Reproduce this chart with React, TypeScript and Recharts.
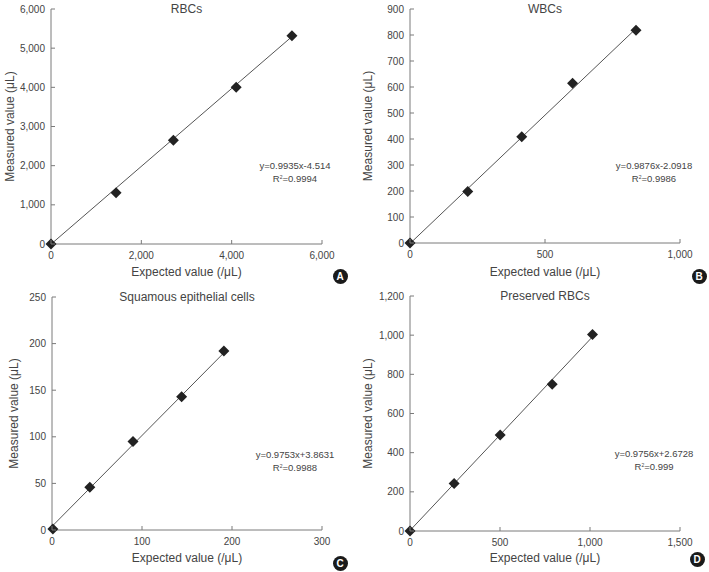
import { ScatterChart, Scatter, XAxis, YAxis, ReferenceLine } from "recharts";

// expected vs measured counts for each cell type
const rbcExpected = [0, 1440, 2710, 4100, 5335];
const rbcMeasured = [0, 1310, 2650, 4000, 5320];
const wbcExpected = [0, 214, 414, 602, 837];
const wbcMeasured = [0, 198, 409, 614, 818];
const secExpected = [1, 42, 90, 144, 191];
const secMeasured = [1, 46, 95, 143, 192];
const prbcExpected = [0, 245, 501, 790, 1014];
const prbcMeasured = [0, 243, 490, 749, 1004];

// regression fits (slope, intercept, R²)
const rbcFit = [0.9935, -4.514, 0.9994];
const wbcFit = [0.9876, -2.0918, 0.9986];
const secFit = [0.9753, 3.8631, 0.9988];
const prbcFit = [0.9756, 2.6728, 0.999];

const rbcTicksX = [0, 2000, 4000, 6000];
const rbcTicksY = [0, 1000, 2000, 3000, 4000, 5000, 6000];
const wbcTicksX = [0, 500, 1000];
const wbcTicksY = [0, 100, 200, 300, 400, 500, 600, 700, 800, 900];
const secTicksX = [0, 100, 200, 300];
const secTicksY = [0, 50, 100, 150, 200, 250];
const prbcTicksX = [0, 500, 1000, 1500];
const prbcTicksY = [0, 200, 400, 600, 800, 1000, 1200];

const FONT = '"Liberation Sans", Arial, Helvetica, sans-serif';
const TEXT = "#444";
const AXIS = "#7a7a7a";
const X_MARGIN = 8;
const Y_MARGIN = 6;

const fmt = (v: number) => v.toLocaleString("en-US");

const XTick = ({ x, y, payload }: any) => (
  <g>
    <line x1={x} x2={x} y1={y - X_MARGIN} y2={y - X_MARGIN - 4} stroke={AXIS} />
    <text x={x} y={y} dy="0.71em" textAnchor="middle" fontSize={10} fill={TEXT} fontFamily={FONT}>
      {fmt(payload.value)}
    </text>
  </g>
);

const YTick = ({ x, y, payload }: any) => (
  <g>
    <line x1={x + Y_MARGIN} x2={x + Y_MARGIN + 4} y1={y} y2={y} stroke={AXIS} />
    <text x={x} y={y} dy="0.355em" textAnchor="end" fontSize={10} fill={TEXT} fontFamily={FONT}>
      {fmt(payload.value)}
    </text>
  </g>
);

const Diamond = (p: any) => {
  const { cx, cy } = p;
  const r = 5.5;
  return <polygon points={`${cx},${cy - r} ${cx + r},${cy} ${cx},${cy + r} ${cx - r},${cy}`} fill="#222" />;
};

type PanelProps = {
  left: number;
  top: number;
  width: number;
  title: string;
  letter: string;
  xs: number[];
  ys: number[];
  fit: number[];
  xTicks: number[];
  yTicks: number[];
  axisWidth: number;
  margin: { top: number; right: number; bottom: number };
  eqX: number;
  eqY: number;
  letterX: number;
  letterY: number;
};

const Panel = (p: PanelProps) => {
  const data = p.xs.map((x, i) => ({ x, y: p.ys[i] }));
  const [slope, intercept, r2] = p.fit;
  const xEnd = Math.max(...p.xs);
  const xMax = p.xTicks[p.xTicks.length - 1];
  const yMax = p.yTicks[p.yTicks.length - 1];
  const sign = intercept < 0 ? "-" : "+";
  const plotLeft = p.axisWidth;
  const plotRight = p.width - p.margin.right;
  const titleX = (plotLeft + plotRight) / 2;

  return (
    <div style={{ position: "absolute", left: p.left, top: p.top, width: p.width, height: 286, fontFamily: FONT }}>
      <ScatterChart
        width={p.width}
        height={286}
        margin={{ top: p.margin.top, right: p.margin.right, bottom: 0, left: 0 }}
      >
        <XAxis
          type="number"
          dataKey="x"
          domain={[0, xMax]}
          ticks={p.xTicks}
          tickSize={0}
          tickMargin={X_MARGIN}
          tick={<XTick />}
          height={p.margin.bottom}
          stroke={AXIS}
          label={{
            value: "Expected value (/μL)",
            position: "insideBottom",
            offset: 10,
            fontSize: 12,
            fill: TEXT,
            fontFamily: FONT,
          }}
        />
        <YAxis
          type="number"
          dataKey="y"
          domain={[0, yMax]}
          ticks={p.yTicks}
          tickSize={0}
          tickMargin={Y_MARGIN}
          tick={<YTick />}
          width={p.axisWidth}
          stroke={AXIS}
          label={{
            value: "Measured value (μL)",
            angle: -90,
            position: "insideLeft",
            offset: p.axisWidth === 51 ? 9.5 : 14,
            fontSize: 12,
            fill: TEXT,
            fontFamily: FONT,
            style: { textAnchor: "middle" },
          }}
        />
        <ReferenceLine
          segment={[
            { x: 0, y: intercept },
            { x: xEnd, y: slope * xEnd + intercept },
          ]}
          stroke="#555"
          strokeWidth={1}
          ifOverflow="visible"
        />
        <Scatter data={data} shape={<Diamond />} isAnimationActive={false} />
      </ScatterChart>

      <div
        style={{
          position: "absolute",
          left: titleX,
          top: p.margin.top,
          transform: "translate(-50%, -50%)",
          fontSize: 12,
          color: TEXT,
          whiteSpace: "nowrap",
        }}
      >
        {p.title}
      </div>

      <div
        style={{
          position: "absolute",
          left: p.eqX,
          top: p.eqY,
          transform: "translateX(-50%)",
          fontSize: 9.5,
          lineHeight: "12.5px",
          color: TEXT,
          textAlign: "center",
          whiteSpace: "nowrap",
        }}
      >
        <div>{`y=${slope}x${sign}${Math.abs(intercept)}`}</div>
        <div>
          R<sup style={{ fontSize: 5, verticalAlign: "top", lineHeight: "8px" }}>2</sup>={r2}
        </div>
      </div>

      <div
        style={{
          position: "absolute",
          left: p.letterX - 7.5,
          top: p.letterY - 7.5,
          width: 15,
          height: 15,
          borderRadius: "50%",
          background: "#1a1a1a",
          color: "#fff",
          fontSize: 10,
          fontWeight: "bold",
          lineHeight: "15px",
          textAlign: "center",
        }}
      >
        {p.letter}
      </div>
    </div>
  );
};

export default function App() {
  return (
    <div style={{ position: "absolute", left: 0, top: 0, width: 709, height: 572, background: "#fff" }}>
      <Panel
        left={0}
        top={0}
        width={354}
        title="RBCs"
        letter="A"
        xs={rbcExpected}
        ys={rbcMeasured}
        fit={rbcFit}
        xTicks={rbcTicksX}
        yTicks={rbcTicksY}
        axisWidth={51}
        margin={{ top: 9, right: 32, bottom: 42 }}
        eqX={295}
        eqY={160}
        letterX={340}
        letterY={276}
      />
      <Panel
        left={354}
        top={0}
        width={355}
        title="WBCs"
        letter="B"
        xs={wbcExpected}
        ys={wbcMeasured}
        fit={wbcFit}
        xTicks={wbcTicksX}
        yTicks={wbcTicksY}
        axisWidth={56}
        margin={{ top: 9, right: 29, bottom: 43 }}
        eqX={300}
        eqY={160}
        letterX={345}
        letterY={276}
      />
      <Panel
        left={0}
        top={286}
        width={354}
        title="Squamous epithelial cells"
        letter="C"
        xs={secExpected}
        ys={secMeasured}
        fit={secFit}
        xTicks={secTicksX}
        yTicks={secTicksY}
        axisWidth={52}
        margin={{ top: 11, right: 32, bottom: 42 }}
        eqX={295}
        eqY={163}
        letterX={340}
        letterY={277}
      />
      <Panel
        left={354}
        top={286}
        width={355}
        title="Preserved RBCs"
        letter="D"
        xs={prbcExpected}
        ys={prbcMeasured}
        fit={prbcFit}
        xTicks={prbcTicksX}
        yTicks={prbcTicksY}
        axisWidth={56}
        margin={{ top: 10, right: 29, bottom: 41 }}
        eqX={300}
        eqY={162}
        letterX={343}
        letterY={273}
      />
    </div>
  );
}
